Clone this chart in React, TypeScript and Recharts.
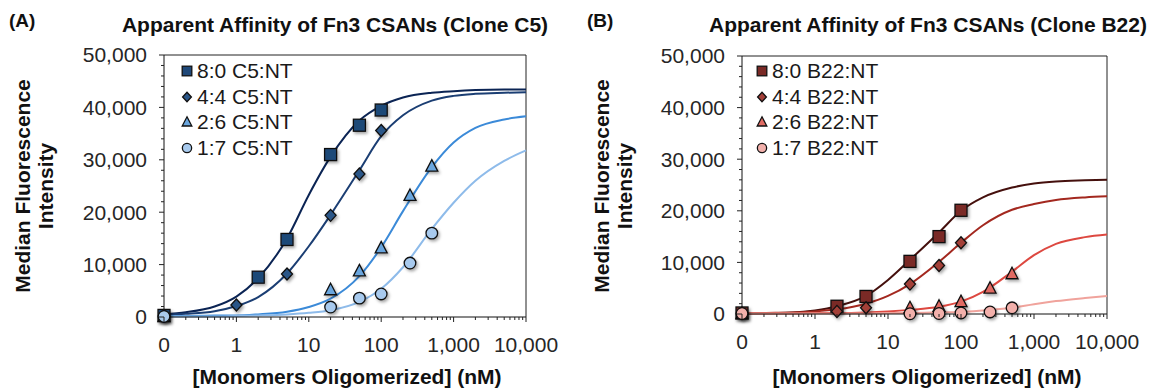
import React from 'react';
import { ComposedChart, Line, Scatter, XAxis, YAxis, ReferenceLine, Legend } from 'recharts';

const FONT = '"Liberation Sans", Arial, Helvetica, sans-serif';

// x axis: log scale, the "0" dose sits at the left end (0.1)
const doseTicks = [0.1, 1, 10, 100, 1000, 10000];
const doseTickLabels = ['0', '1', '10', '100', '1,000', '10,000'];
const mfiTicks = [0, 10000, 20000, 30000, 40000, 50000];
const mfiTickLabels = ['0', '10,000', '20,000', '30,000', '40,000', '50,000'];

const shapes = ['square', 'diamond', 'triangle', 'circle'];

// ---- clone C5 ----
const c5Names = ['8:0 C5:NT', '4:4 C5:NT', '2:6 C5:NT', '1:7 C5:NT'];
const c5Fills = ['#1f4878', '#2a5688', '#6aa6de', '#a8caee'];
const c5Lines = ['#0b2454', '#1b3e73', '#3b8ad8', '#8ebbea'];

const c5Dose80 = [0.1, 2, 5, 20, 50, 100];
const c5Mfi80 = [300, 7600, 14800, 31000, 36600, 39500];
const c5Dose44 = [0.1, 1, 5, 20, 50, 100];
const c5Mfi44 = [200, 2300, 8200, 19400, 27300, 35600];
const c5Dose26 = [0.1, 20, 50, 100, 250, 500];
const c5Mfi26 = [100, 5200, 8800, 13200, 23200, 28800];
const c5Dose17 = [0.1, 20, 50, 100, 250, 500];
const c5Mfi17 = [100, 1900, 3600, 4400, 10300, 16000];

const fitDose = [0.1, 0.2, 0.5, 1, 2, 5, 10, 20, 50, 100, 200, 500, 1000, 2000, 5000, 10000];
const c5Fit80 = [500, 900, 2000, 3900, 7400, 15000, 23300, 30600, 37500, 40300, 41900, 42800, 43100, 43300, 43400, 43400];
const c5Fit44 = [400, 600, 1100, 2100, 3800, 8300, 13500, 19500, 28000, 34500, 38500, 41300, 42200, 42600, 42800, 42900];
const c5Fit26 = [200, 200, 300, 300, 500, 1000, 1900, 3500, 7800, 13300, 20200, 28600, 33300, 36100, 37700, 38300];
const c5Fit17 = [100, 100, 100, 200, 300, 500, 800, 1300, 2900, 5400, 9500, 16800, 21800, 26000, 29800, 31800];

// ---- clone B22 ----
const b22Names = ['8:0 B22:NT', '4:4 B22:NT', '2:6 B22:NT', '1:7 B22:NT'];
const b22Fills = ['#7a2a26', '#a33f38', '#e06b63', '#f2b0ab'];
const b22Lines = ['#45100d', '#a3281f', '#dd4840', '#f0a39c'];

const b22Dose80 = [0.1, 2, 5, 20, 50, 100];
const b22Mfi80 = [200, 1500, 3400, 10200, 15000, 20100];
const b22Dose44 = [0.1, 2, 5, 20, 50, 100];
const b22Mfi44 = [100, 500, 1200, 5800, 9400, 13800];
const b22Dose26 = [0.1, 20, 50, 100, 250, 500];
const b22Mfi26 = [100, 1200, 1500, 2400, 5000, 7800];
const b22Dose17 = [0.1, 20, 50, 100, 250, 500];
const b22Mfi17 = [100, 50, 100, 200, 400, 1200];

const b22Fit80 = [200, 200, 300, 700, 1500, 3500, 6600, 10500, 15800, 20000, 22600, 24500, 25300, 25700, 25900, 26000];
const b22Fit44 = [100, 200, 300, 500, 900, 2000, 3500, 5800, 10100, 13800, 17200, 20200, 21300, 22100, 22600, 22800];
const b22Fit26 = [100, 100, 100, 200, 200, 300, 500, 800, 1400, 2400, 4300, 8200, 11400, 13600, 14900, 15400];
const b22Fit17 = [100, 100, 100, 100, 100, 100, 200, 200, 300, 400, 700, 1200, 1900, 2500, 3100, 3500];

const pts = (xs: number[], ys: number[]) => xs.map((x, i) => ({ x, y: ys[i] }));

// minor log ticks 2..9 in each decade
const xTickValues: number[] = [];
doseTicks.forEach((d, i) => {
  xTickValues.push(d);
  if (i < doseTicks.length - 1) for (let m = 2; m <= 9; m++) xTickValues.push(d * m);
});
const yTickValues: number[] = [];
for (let v = 0; v <= 50000; v += 2000) yTickValues.push(v);

function MarkerShape({ shape, cx, cy, fill, s = 1 }: any) {
  const st = { fill, stroke: '#111', strokeWidth: 1.3 };
  if (shape === 'square') return <rect x={cx - 6 * s} y={cy - 6 * s} width={12 * s} height={12 * s} {...st} />;
  if (shape === 'diamond')
    return <polygon points={`${cx},${cy - 6 * s} ${cx + 5.5 * s},${cy} ${cx},${cy + 6 * s} ${cx - 5.5 * s},${cy}`} {...st} />;
  if (shape === 'triangle')
    return <polygon points={`${cx},${cy - 6.5 * s} ${cx + 6 * s},${cy + 5 * s} ${cx - 6 * s},${cy + 5 * s}`} {...st} />;
  return <circle cx={cx} cy={cy} r={5.8 * s} {...st} />;
}

const XTick = ({ x, y, payload }: any) => {
  const idx = doseTicks.indexOf(payload.value);
  const major = idx >= 0;
  return (
    <g>
      <line x1={x} x2={x} y1={y} y2={y + (major ? 5 : 3)} stroke="#222" strokeWidth={1} />
      {major && (
        <text x={x} y={y + 28} dy="0.35em" textAnchor="middle" fontFamily={FONT} fontSize={21} fill="#262626">
          {doseTickLabels[idx]}
        </text>
      )}
    </g>
  );
};

const YTick = ({ x, y, payload }: any) => {
  const idx = mfiTicks.indexOf(payload.value);
  const major = idx >= 0;
  return (
    <g>
      <line x1={x} x2={x - (major ? 5 : 3)} y1={y} y2={y} stroke="#222" strokeWidth={1} />
      {major && (
        <text x={x - 17} y={y} dy="0.35em" textAnchor="end" fontFamily={FONT} fontSize={21} fill="#262626">
          {mfiTickLabels[idx]}
        </text>
      )}
    </g>
  );
};

function LegendBox({ names, fills }: any) {
  return (
    <div style={{ fontFamily: FONT, fontSize: 21, lineHeight: '25.7px', color: '#1a1a1a' }}>
      {names.map((n: string, i: number) => (
        <div key={n} style={{ display: 'flex', alignItems: 'center', whiteSpace: 'nowrap' }}>
          <svg width={14} height={14} style={{ marginRight: 3 }}>
            <MarkerShape shape={shapes[i]} cx={7} cy={7} fill={fills[i]} s={0.8} />
          </svg>
          {n}
        </div>
      ))}
    </div>
  );
}

function Panel({ left, width, margin, yWidth, names, fills, lines, points, fits, legendLeft }: any) {
  return (
    <div style={{ position: 'absolute', left, top: 0 }}>
      <ComposedChart width={width} height={390} margin={margin}>
        <XAxis
          dataKey="x"
          type="number"
          scale="log"
          domain={[0.1, 10000]}
          ticks={xTickValues}
          interval={0}
          tick={<XTick />}
          tickLine={false}
          tickSize={0}
          tickMargin={0}
          height={30}
          axisLine={{ stroke: '#111' }}
        />
        <YAxis
          dataKey="y"
          type="number"
          domain={[0, 50000]}
          ticks={yTickValues}
          interval={0}
          tick={<YTick />}
          tickLine={false}
          tickSize={0}
          tickMargin={0}
          width={yWidth}
          axisLine={{ stroke: '#111' }}
        />
        <ReferenceLine y={50000} stroke="#222" strokeWidth={1} />
        <ReferenceLine x={10000} stroke="#222" strokeWidth={1} />
        {fits.map((f: number[], i: number) => (
          <Line
            key={'l' + i}
            data={pts(fitDose, f)}
            dataKey="y"
            type="monotone"
            stroke={lines[i]}
            strokeWidth={2}
            dot={false}
            activeDot={false}
            isAnimationActive={false}
            legendType="none"
          />
        ))}
        {points.map((p: any, i: number) => (
          <Scatter
            key={'s' + i}
            data={p}
            dataKey="y"
            isAnimationActive={false}
            shape={(props: any) => (
              <g filter="url(#mkShadow)">
                <MarkerShape shape={shapes[i]} cx={props.cx} cy={props.cy} fill={fills[i]} />
              </g>
            )}
          />
        ))}
        <Legend
          layout="vertical"
          align="center"
          verticalAlign="middle"
          wrapperStyle={{ left: legendLeft, top: 58, width: 170 }}
          content={() => <LegendBox names={names} fills={fills} />}
        />
      </ComposedChart>
    </div>
  );
}

const txt = (s: any) => ({ position: 'absolute' as const, fontFamily: FONT, whiteSpace: 'nowrap' as const, color: '#111', ...s });

export default function App() {
  return (
    <div style={{ position: 'absolute', left: 0, top: 0, width: 1153, height: 390, background: '#fff', overflow: 'hidden' }}>
      <svg width={0} height={0} style={{ position: 'absolute' }}>
        <defs>
          <filter id="mkShadow" x="-60%" y="-60%" width="220%" height="220%">
            <feDropShadow dx="1.5" dy="2" stdDeviation="1.6" floodColor="#000" floodOpacity="0.35" />
          </filter>
        </defs>
      </svg>

      <Panel
        left={0}
        width={576}
        yWidth={164}
        margin={{ top: 55, right: 50, bottom: 43, left: 0 }}
        names={c5Names}
        fills={c5Fills}
        lines={c5Lines}
        legendLeft={180}
        points={[pts(c5Dose80, c5Mfi80), pts(c5Dose44, c5Mfi44), pts(c5Dose26, c5Mfi26), pts(c5Dose17, c5Mfi17)]}
        fits={[c5Fit80, c5Fit44, c5Fit26, c5Fit17]}
      />
      <Panel
        left={576}
        width={577}
        yWidth={166}
        margin={{ top: 56, right: 46, bottom: 46, left: 0 }}
        names={b22Names}
        fills={b22Fills}
        lines={b22Lines}
        legendLeft={179}
        points={[pts(b22Dose80, b22Mfi80), pts(b22Dose44, b22Mfi44), pts(b22Dose26, b22Mfi26), pts(b22Dose17, b22Mfi17)]}
        fits={[b22Fit80, b22Fit44, b22Fit26, b22Fit17]}
      />

      <div style={txt({ left: 9, top: 10, fontSize: 19, fontWeight: 'bold' })}>(A)</div>
      <div style={txt({ left: 587, top: 10, fontSize: 19, fontWeight: 'bold' })}>(B)</div>
      <div style={txt({ left: 335, top: 25, fontSize: 21, fontWeight: 'bold', transform: 'translate(-50%,-50%)' })}>
        Apparent Affinity of Fn3 CSANs (Clone C5)
      </div>
      <div style={txt({ left: 928, top: 25, fontSize: 21, fontWeight: 'bold', transform: 'translate(-50%,-50%)' })}>
        Apparent Affinity of Fn3 CSANs (Clone B22)
      </div>
      <div style={txt({ left: 347, top: 377, fontSize: 21, fontWeight: 'bold', transform: 'translate(-50%,-50%)' })}>
        [Monomers Oligomerized] (nM)
      </div>
      <div style={txt({ left: 927, top: 377, fontSize: 21, fontWeight: 'bold', transform: 'translate(-50%,-50%)' })}>
        [Monomers Oligomerized] (nM)
      </div>
      <div
        style={txt({
          left: 34, top: 186, fontSize: 21, fontWeight: 'bold', lineHeight: '23px', textAlign: 'center',
          transform: 'translate(-50%,-50%) rotate(-90deg)',
        })}
      >
        Median Fluorescence<br />Intensity
      </div>
      <div
        style={txt({
          left: 613, top: 186, fontSize: 21, fontWeight: 'bold', lineHeight: '23px', textAlign: 'center',
          transform: 'translate(-50%,-50%) rotate(-90deg)',
        })}
      >
        Median Fluorescence<br />Intensity
      </div>
    </div>
  );
}
